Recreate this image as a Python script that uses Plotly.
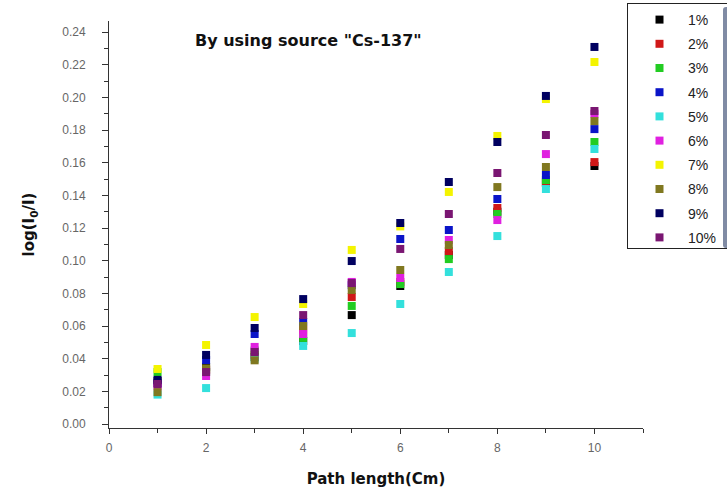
import plotly.graph_objects as go

path_length = [1, 2, 3, 4, 5, 6, 7, 8, 9, 10]
labels = ["1%", "2%", "3%", "4%", "5%", "6%", "7%", "8%", "9%", "10%"]

p1 = [0.0263, 0.0350, 0.0410, 0.0508, 0.0667, 0.0845, 0.1035, 0.1300, 0.1476, 0.1580]
p2 = [0.0250, 0.0330, 0.0423, 0.0576, 0.0778, 0.0870, 0.1059, 0.1323, 0.1480, 0.1604]
p3 = [0.0318, 0.0320, 0.0450, 0.0527, 0.0723, 0.0857, 0.1010, 0.1286, 0.1494, 0.1727]
p4 = [0.0250, 0.0392, 0.0551, 0.0625, 0.0850, 0.1133, 0.1188, 0.1378, 0.1525, 0.1806]
p5 = [0.0180, 0.0220, 0.0400, 0.0478, 0.0557, 0.0735, 0.0931, 0.1151, 0.1439, 0.1684]
p6 = [0.0230, 0.0294, 0.0472, 0.0551, 0.0870, 0.0894, 0.1127, 0.1249, 0.1653, 0.1900]
p7 = [0.0337, 0.0484, 0.0655, 0.0735, 0.1066, 0.1210, 0.1421, 0.1764, 0.1990, 0.2217]
p8 = [0.0195, 0.0340, 0.0390, 0.0600, 0.0821, 0.0943, 0.1096, 0.1451, 0.1574, 0.1855]
p9 = [0.0270, 0.0423, 0.0588, 0.0765, 0.0998, 0.1231, 0.1482, 0.1727, 0.2009, 0.2309]
p10 = [0.0245, 0.0318, 0.0441, 0.0667, 0.0863, 0.1072, 0.1286, 0.1537, 0.1770, 0.1917]

series = [p1, p2, p3, p4, p5, p6, p7, p8, p9, p10]
colors = ["#000000", "#d01818", "#22cc22", "#0a14c8", "#33e0dc",
          "#e020e0", "#f4f400", "#807820", "#000060", "#7a1672"]

fig = go.Figure()
for i, (name, vals) in enumerate(zip(labels, series)):
    fig.add_trace(go.Scatter(
        x=path_length, y=vals, mode="markers", name=name,
        legendgroup=name,
        marker=dict(symbol="square", size=8, color=colors[i], line=dict(width=0)),
    ))

axis_font = dict(family="Liberation Sans, Arial, sans-serif", size=12, color="#666666")
title_font = dict(family="DejaVu Sans, sans-serif", size=15, color="#111111")

# plot area in pixels (page coordinates)
L, R, T, B = 109, 643, 21, 428
W, H = 727, 492

fig.update_layout(
    width=W, height=H,
    margin=dict(l=L, r=W - R, t=T, b=H - B, autoexpand=False),
    paper_bgcolor="white", plot_bgcolor="white",
    showlegend=True,
    legend=dict(
        x=(627 - L) / (R - L), y=(B - 3) / (B - T), xanchor="left", yanchor="top",
        bordercolor="#222222", borderwidth=1, bgcolor="white",
        font=dict(family="Liberation Sans, Arial, sans-serif", size=14, color="#222222"),
        traceorder="grouped", tracegroupgap=3, indentation=3, itemwidth=47,
    ),
    xaxis=dict(
        range=[0, 11], tick0=0, dtick=2, showgrid=False, zeroline=False,
        showline=True, linecolor="#333333", linewidth=1,
        ticks="outside", ticklen=5, tickcolor="#333333",
        minor=dict(dtick=1, ticks="outside", ticklen=4, tickcolor="#333333", showgrid=False),
        tickfont=axis_font, ticklabelstandoff=4,
        title=dict(text="<b>Path length(Cm)</b>", font=title_font, standoff=19),
    ),
    yaxis=dict(
        range=[-0.00245, 0.2468], tick0=0, dtick=0.02, tickformat=".2f",
        showgrid=False, zeroline=False,
        showline=True, linecolor="#333333", linewidth=1,
        ticks="outside", ticklen=6, tickcolor="#333333",
        minor=dict(dtick=0.01, ticks="outside", ticklen=4, tickcolor="#333333", showgrid=False),
        tickfont=axis_font, ticklabelstandoff=14,
        title=dict(text="<b>log(I<sub>0</sub>/I)</b>", font=title_font, standoff=23),
    ),
    annotations=[dict(
        text="<b>By using source \"Cs-137\"</b>",
        x=((188 + 428) / 2 - L) / (R - L), y=(B - 41) / (B - T),
        xref="paper", yref="paper", xanchor="center", yanchor="middle",
        showarrow=False,
        font=dict(family="DejaVu Sans, sans-serif", size=16, color="#111111"),
    )],
)

fig.write_html("out.html", config={"displayModeBar": False},
               post_script="document.body.style.margin='0px';")
